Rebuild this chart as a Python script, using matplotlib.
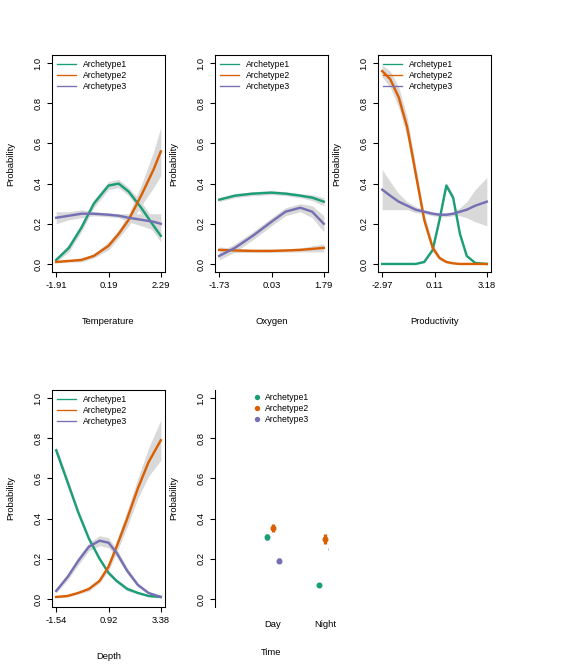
import matplotlib
matplotlib.use("Agg")
import matplotlib.pyplot as plt
from matplotlib.lines import Line2D
import numpy as np

cols = ["#1B9E77", "#D95F02", "#7570B3"]
names = ["Archetype1", "Archetype2", "Archetype3"]

temp_x = [-1.91,-1.4,-0.9,-0.4,0.19,0.6,1.0,1.5,2.0,2.29]
temp_y = [[0.02,0.08,0.18,0.30,0.39,0.40,0.36,0.28,0.19,0.14],
          [0.01,0.015,0.02,0.04,0.09,0.15,0.22,0.34,0.47,0.56],
          [0.23,0.24,0.25,0.25,0.245,0.24,0.23,0.22,0.21,0.20]]
temp_se = [[0.01,0.02,0.02,0.02,0.02,0.02,0.02,0.03,0.03,0.03],
           [0.005,0.005,0.01,0.01,0.02,0.02,0.03,0.05,0.09,0.12],
           [0.03,0.02,0.02,0.01,0.01,0.01,0.02,0.03,0.04,0.05]]
oxy_x = [-1.73,-1.2,-0.6,0.03,0.5,1.0,1.4,1.79]
oxy_y = [[0.32,0.34,0.35,0.355,0.35,0.34,0.33,0.31],
         [0.07,0.067,0.065,0.065,0.067,0.07,0.075,0.08],
         [0.04,0.08,0.14,0.21,0.26,0.28,0.26,0.20]]
oxy_se = [[0.01,0.01,0.01,0.01,0.01,0.01,0.015,0.02],
          [0.015,0.01,0.008,0.008,0.008,0.01,0.015,0.02],
          [0.02,0.02,0.02,0.02,0.02,0.02,0.03,0.04]]
prod_x = [-2.97,-2.5,-2.0,-1.5,-1.0,-0.5,0,0.4,0.8,1.2,1.6,2.0,2.5,3.18]
prod_y = [[0,0,0,0,0,0.01,0.07,0.22,0.39,0.33,0.15,0.04,0.005,0],
          [0.96,0.92,0.83,0.68,0.45,0.22,0.08,0.03,0.01,0.003,0,0,0,0],
          [0.37,0.34,0.31,0.29,0.27,0.26,0.25,0.245,0.245,0.25,0.26,0.27,0.29,0.31]]
prod_se = [[0,0,0,0,0,0.005,0.01,0.01,0.015,0.015,0.01,0.005,0,0],
           [0.03,0.04,0.05,0.05,0.04,0.03,0.02,0.01,0.005,0,0,0,0,0],
           [0.10,0.07,0.04,0.02,0.015,0.01,0.01,0.01,0.01,0.01,0.02,0.04,0.08,0.12]]
depth_x = [-1.54,-1.0,-0.5,0,0.5,0.92,1.3,1.8,2.3,2.8,3.38]
depth_y = [[0.74,0.58,0.43,0.30,0.20,0.13,0.09,0.05,0.03,0.015,0.01],
           [0.01,0.015,0.03,0.05,0.09,0.16,0.26,0.40,0.55,0.68,0.79],
           [0.04,0.11,0.19,0.26,0.29,0.28,0.23,0.14,0.07,0.03,0.01]]
depth_se = [[0.02,0.02,0.015,0.01,0.01,0.01,0.01,0.01,0.005,0.005,0.005],
            [0.005,0.005,0.005,0.01,0.01,0.02,0.03,0.04,0.05,0.07,0.10],
            [0.01,0.015,0.02,0.02,0.025,0.025,0.02,0.015,0.01,0.005,0.005]]
panels = [("Temperature", temp_x, temp_y, temp_se, ["-1.91","0.19","2.29"]),
          ("Oxygen", oxy_x, oxy_y, oxy_se, ["-1.73","0.03","1.79"]),
          ("Productivity", prod_x, prod_y, prod_se, ["-2.97","0.11","3.18"]),
          ("Depth", depth_x, depth_y, depth_se, ["-1.54","0.92","3.38"])]

time_cats = ["Day", "Night"]
time_y = [[0.31, 0.07], [0.355, 0.30], [0.19, 0.25]]
time_err = [[0.015, 0.01], [0.02, 0.025], [0.012, 0.025]]

plt.rcParams['font.family'] = ['Liberation Sans', 'DejaVu Sans']
fig = plt.figure(figsize=(6, 7), dpi=96)
W, H = 576, 672
boxes = [(52, 55), (215, 55), (378, 55), (52, 390)]
aw, ah = 113, 217

def mkax(x0, y0):
    return fig.add_axes([x0 / W, 1 - (y0 + ah) / H, aw / W, ah / H])

def style(ax, ticks, labels, xlabel):
    ax.set_ylim(-0.04, 1.04)
    ax.set_yticks([0, 0.2, 0.4, 0.6, 0.8, 1.0])
    ax.set_yticklabels(["0.0", "0.2", "0.4", "0.6", "0.8", "1.0"], rotation=90, va="center")
    ax.set_xticks(ticks)
    ax.set_xticklabels(labels)
    ax.tick_params(labelsize=7, length=4, pad=3)
    ax.set_ylabel("Probability", fontsize=7, labelpad=14)
    ax.set_xlabel(xlabel, fontsize=7, labelpad=20)

for (lab, x, ys, ses, tl), (bx, by) in zip(panels, boxes):
    ax = mkax(bx, by)
    for y, se, c, n in zip(ys, ses, cols, names):
        y = np.array(y); se = np.array(se)
        ax.fill_between(x, y - se, y + se, color="#d9d9d9", lw=0)
        ax.plot(x, y, color=c, lw=1.8)
    pad = 0.04 * (x[-1] - x[0])
    ax.set_xlim(x[0] - pad, x[-1] + pad)
    style(ax, [float(t) for t in tl], tl, lab)
    handles = [Line2D([], [], color=c, lw=1) for c in cols]
    ax.legend(handles, names, loc="upper left", fontsize=6.5, frameon=False, handlelength=2.2,
              borderaxespad=0.2, labelspacing=0.2)

ax = mkax(215, 390)
xs = np.arange(len(time_cats)) + 1
for i, (y, e, c, n) in enumerate(zip(time_y, time_err, cols, names)):
    ax.errorbar(xs + (i - 1) * 0.11, y, yerr=e, fmt="o", color=c, ms=3.5, lw=2.5,
                capsize=0)
ax.set_xlim(-0.116, 2.058)
style(ax, xs, time_cats, "Time")
for s in ["top", "right", "bottom"]:
    ax.spines[s].set_visible(False)
ax.tick_params(axis="x", length=0, pad=10)
ax.xaxis.labelpad = 14
handles = [Line2D([], [], color=c, marker="o", ms=3, lw=0) for c in cols]
ax.legend(handles, names, loc="upper left", fontsize=6.5, frameon=False, handlelength=1,
          handletextpad=0.4, borderaxespad=0.0, labelspacing=0.2, bbox_to_anchor=(0.3, 1.0))
fig.savefig("out.png", dpi=96)
